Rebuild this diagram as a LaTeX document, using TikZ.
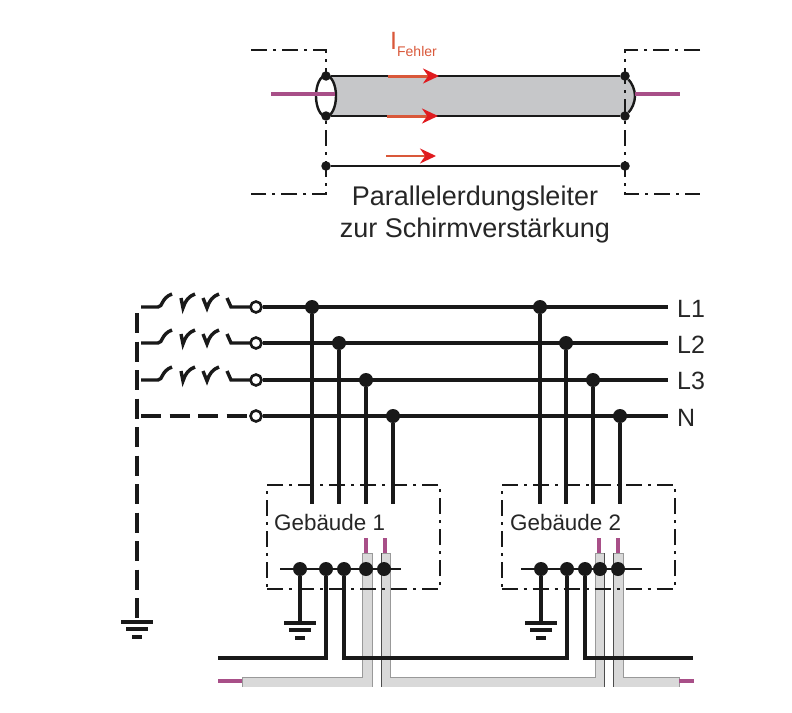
\documentclass[tikz,border=0pt]{standalone}
\usepackage{fontspec}
\setmainfont{Liberation Sans}
\usetikzlibrary{shapes.geometric}
\usetikzlibrary{arrows.meta}
\definecolor{shieldgrey}{HTML}{C6C7C9}
\definecolor{cablegrey}{HTML}{D9D9D9}
\definecolor{corepink}{HTML}{A84F88}
\definecolor{faultline}{HTML}{D9583A}
\definecolor{faulthead}{HTML}{E01B1F}
\tikzset{
  main dot/.style={circle, fill=black!90, inner sep=0pt, minimum size=14pt},
  small dot/.style={circle, fill=black!90, inner sep=0pt, minimum size=9.5pt},
  open dot/.style={circle, fill=white, draw=black!90, line width=2.6pt, inner sep=0pt, minimum size=11pt},
  wire/.style={draw=black!90, line width=3.4pt},
  thin wire/.style={draw=black!90, line width=2.4pt},
  frame line/.style={draw=black!90, line width=2pt, dash pattern=on 16pt off 6pt on 3pt off 6pt},
  house/.style={frame line, inner sep=0pt, minimum width=173pt, minimum height=104pt},
  core/.style={draw=corepink, line width=3.4pt},
  shield/.style={fill=cablegrey, draw=black!40, line width=1pt},
  shield edge/.style={draw=black!70, line width=1pt},
  fault/.style={draw=faultline, line width=3pt, -{Stealth[length=16pt,width=15pt,color=faulthead]}},
  big text/.style={inner sep=0pt, text=black!85, font=\fontsize{27}{32}\selectfont, align=center},
  mid text/.style={inner sep=0pt, text=black!85, font=\fontsize{22.4}{22.4}\selectfont},
  phase text/.style={inner sep=0pt, anchor=west, text=black!85, font=\fontsize{25}{25}\selectfont},
  switchrow/.pic={
    \draw[wire] (0,0) -- (17,0) .. controls (22,0) and (20,-9) .. (31,-13);
    \draw[wire] (40,-9) -- (42,1) .. controls (44,-6) and (48,-11) .. (54,-13);
    \draw[wire] (62,-9) -- (66,1) .. controls (68,-6) and (72,-11) .. (78,-13);
    \draw[wire] (86,-9) -- (90,0) -- (109,0);
  },
  earth/.pic={
    \draw[wire] (-16,0) -- (16,0);
    \draw[wire] (-11,7) -- (11,7);
    \draw[wire] (-5,15) -- (5,15);
  }
}

\begin{document}
\begin{tikzpicture}[x=1pt,y=-1pt]
	\useasboundingbox (0,0) rectangle (792,712);

	% upper part
	\fill[shieldgrey] (326,76) -- (625,76) .. controls (632,83) and (635,90) .. (635,96)
	  .. controls (635,102) and (632,109) .. (625,116) -- (326,116) -- cycle;

	\coordinate (frameLa) at (251,50);
	\coordinate (frameLb) at (326,50);
	\coordinate (frameLc) at (326,194);
	\coordinate (frameLd) at (251,194);
	\coordinate (frameRa) at (700,50);
	\coordinate (frameRb) at (625,50);
	\coordinate (frameRc) at (625,194);
	\coordinate (frameRd) at (700,194);
	\draw[frame line] (frameLa) -- (frameLb) -- (frameLc) -- (frameLd);
	\draw[frame line] (frameRa) -- (frameRb) -- (frameRc) -- (frameRd);

	\node[ellipse, fill=white, draw=black!90, line width=2.4pt, inner sep=0pt, minimum width=20pt, minimum height=41pt] at (326,96) (shieldL) {};
	\node[small dot] at (326,76) (topL) {};
	\node[small dot] at (326,116) (botL) {};
	\node[small dot] at (326,166) (paraL) {};
	\node[small dot] at (625,76) (topR) {};
	\node[small dot] at (625,116) (botR) {};
	\node[small dot] at (625,166) (paraR) {};
	\draw[thin wire] (topL) -- (topR);
	\draw[thin wire] (botL) -- (botR);
	\draw[thin wire] (paraL) -- (paraR);
	\draw[thin wire] (topR) .. controls (632,83) and (635,90) .. (635,96) .. controls (635,102) and (632,109) .. (botR);

	\coordinate (coreLa) at (271,94);
	\coordinate (coreLb) at (335,94);
	\coordinate (coreRa) at (635,94);
	\coordinate (coreRb) at (680,94);
	\draw[core] (coreLa) -- (coreLb);
	\draw[core] (coreRa) -- (coreRb);

	\coordinate (faultAa) at (388,76);
	\coordinate (faultAb) at (439,76);
	\coordinate (faultBa) at (387,116);
	\coordinate (faultBb) at (438,116);
	\coordinate (faultCa) at (386,156);
	\coordinate (faultCb) at (436,156);
	\draw[fault] (faultAa) -- (faultAb);
	\draw[fault] (faultBa) -- (faultBb);
	\draw[fault, line width=2.2pt] (faultCa) -- (faultCb);

	\node[inner sep=0pt, anchor=west, text=faultline] at (390,44) (faultlabel) {\fontsize{25}{25}\selectfont I\raisebox{-7pt}{\fontsize{14}{14}\selectfont Fehler}};
	\node[big text] at (475,215) (caption) {Parallelerdungsleiter\\zur Schirmverstärkung};

	% lower part, cables
	\filldraw[shield] (242,677) -- (362,677) -- (362,553) -- (372,553) -- (372,687) -- (242,687) -- cycle;
	\filldraw[shield] (381,553) -- (390,553) -- (390,677) -- (595,677) -- (595,553) -- (604,553) -- (604,687) -- (381,687) -- cycle;
	\filldraw[shield] (613,553) -- (623,553) -- (623,677) -- (679,677) -- (679,687) -- (613,687) -- cycle;
	\draw[white, line width=1.5pt] (240,687.8) -- (681,687.8);

	\coordinate (edgeAa) at (381,553);
	\coordinate (edgeAb) at (381,687);
	\coordinate (edgeBa) at (604,553);
	\coordinate (edgeBb) at (604,687);
	\coordinate (edgeCa) at (613,553);
	\coordinate (edgeCb) at (613,687);
	\draw[shield edge] (edgeAa) -- (edgeAb);
	\draw[shield edge] (edgeBa) -- (edgeBb);
	\draw[shield edge] (edgeCa) -- (edgeCb);

	\coordinate (pinAa) at (366,538);
	\coordinate (pinAb) at (366,553);
	\coordinate (pinBa) at (385,538);
	\coordinate (pinBb) at (385,553);
	\coordinate (pinCa) at (599,538);
	\coordinate (pinCb) at (599,553);
	\coordinate (pinDa) at (618,538);
	\coordinate (pinDb) at (618,553);
	\coordinate (pinEa) at (218,681);
	\coordinate (pinEb) at (242,681);
	\coordinate (pinFa) at (679,681);
	\coordinate (pinFb) at (694,681);
	\draw[core] (pinAa) -- (pinAb);
	\draw[core] (pinBa) -- (pinBb);
	\draw[core] (pinCa) -- (pinCb);
	\draw[core] (pinDa) -- (pinDb);
	\draw[core] (pinEa) -- (pinEb);
	\draw[core] (pinFa) -- (pinFb);

	% buildings
	\node[house] at (353.5,537) (house1) {};
	\node[house] at (588,537) (house2) {};
	\node[mid text, anchor=west] at (274,522) (house1 label) {Gebäude 1};
	\node[mid text, anchor=west] at (510,522) (house2 label) {Gebäude 2};

	% switches
	\pic at (141,307) {switchrow};
	\pic at (141,343) {switchrow};
	\pic at (141,380) {switchrow};

	\coordinate (earthA) at (137,313);
	\coordinate (earthB) at (137,622);
	\pic at (earthB) {earth};
	\draw[wire, dash pattern=on 20pt off 8.5pt] (earthA) -- (earthB);

	\coordinate (neutral) at (141,416);
	\node[open dot] at (256,307) (s1) {};
	\node[open dot] at (256,343) (s2) {};
	\node[open dot] at (256,380) (s3) {};
	\node[open dot] at (256,416) (s4) {};
	\draw[wire, dash pattern=on 20pt off 8.5pt] (neutral) -- (s4);

	\node[phase text] at (677,309) (L1) {L1};
	\node[phase text] at (677,345) (L2) {L2};
	\node[phase text] at (677,381) (L3) {L3};
	\node[phase text] at (677,418) (L4) {N};
	\coordinate (e1) at (668,307);
	\coordinate (e2) at (668,343);
	\coordinate (e3) at (668,380);
	\coordinate (e4) at (668,416);
	\draw[wire] (s1) -- (e1);
	\draw[wire] (s2) -- (e2);
	\draw[wire] (s3) -- (e3);
	\draw[wire] (s4) -- (e4);

	% feeders
	\node[main dot] at (312,307) (a1) {};
	\node[main dot] at (339,343) (a2) {};
	\node[main dot] at (366,380) (a3) {};
	\node[main dot] at (393,416) (a4) {};
	\node[main dot] at (540,307) (b1) {};
	\node[main dot] at (566,343) (b2) {};
	\node[main dot] at (593,380) (b3) {};
	\node[main dot] at (620,416) (b4) {};
	\coordinate (ae1) at (312,504);
	\coordinate (ae2) at (339,504);
	\coordinate (ae3) at (366,504);
	\coordinate (ae4) at (393,504);
	\coordinate (be1) at (540,504);
	\coordinate (be2) at (566,504);
	\coordinate (be3) at (593,504);
	\coordinate (be4) at (620,504);
	\draw[wire] (a1) -- (ae1);
	\draw[wire] (a2) -- (ae2);
	\draw[wire] (a3) -- (ae3);
	\draw[wire] (a4) -- (ae4);
	\draw[wire] (b1) -- (be1);
	\draw[wire] (b2) -- (be2);
	\draw[wire] (b3) -- (be3);
	\draw[wire] (b4) -- (be4);

	% earthing bars
	\coordinate (bar1a) at (280,569);
	\coordinate (bar1b) at (401,569);
	\coordinate (bar2a) at (521,569);
	\coordinate (bar2b) at (642,569);
	\draw[wire, line width=2.6pt] (bar1a) -- (bar1b);
	\draw[wire, line width=2.6pt] (bar2a) -- (bar2b);
	\node[main dot] at (300,569) (c1) {};
	\node[main dot] at (326,569) (c2) {};
	\node[main dot] at (344,569) (c3) {};
	\node[main dot] at (366,569) (c4) {};
	\node[main dot] at (384,569) (c5) {};
	\node[main dot] at (541,569) (d1) {};
	\node[main dot] at (567,569) (d2) {};
	\node[main dot] at (585,569) (d3) {};
	\node[main dot] at (600,569) (d4) {};
	\node[main dot] at (618,569) (d5) {};

	\coordinate (earth1) at (300,623);
	\coordinate (earth2) at (541,623);
	\draw[wire] (c1) -- (earth1);
	\draw[wire] (d1) -- (earth2);
	\pic at (earth1) {earth};
	\pic at (earth2) {earth};

	\coordinate (w1) at (218,658);
	\coordinate (w2) at (344,658);
	\coordinate (w3) at (585,658);
	\coordinate (w4) at (693,658);
	\draw[wire] (w1) -| (c2);
	\draw[wire] (c3) -- (w2) -| (d2);
	\draw[wire] (d3) -- (w3) -- (w4);
\end{tikzpicture}
\end{document}
